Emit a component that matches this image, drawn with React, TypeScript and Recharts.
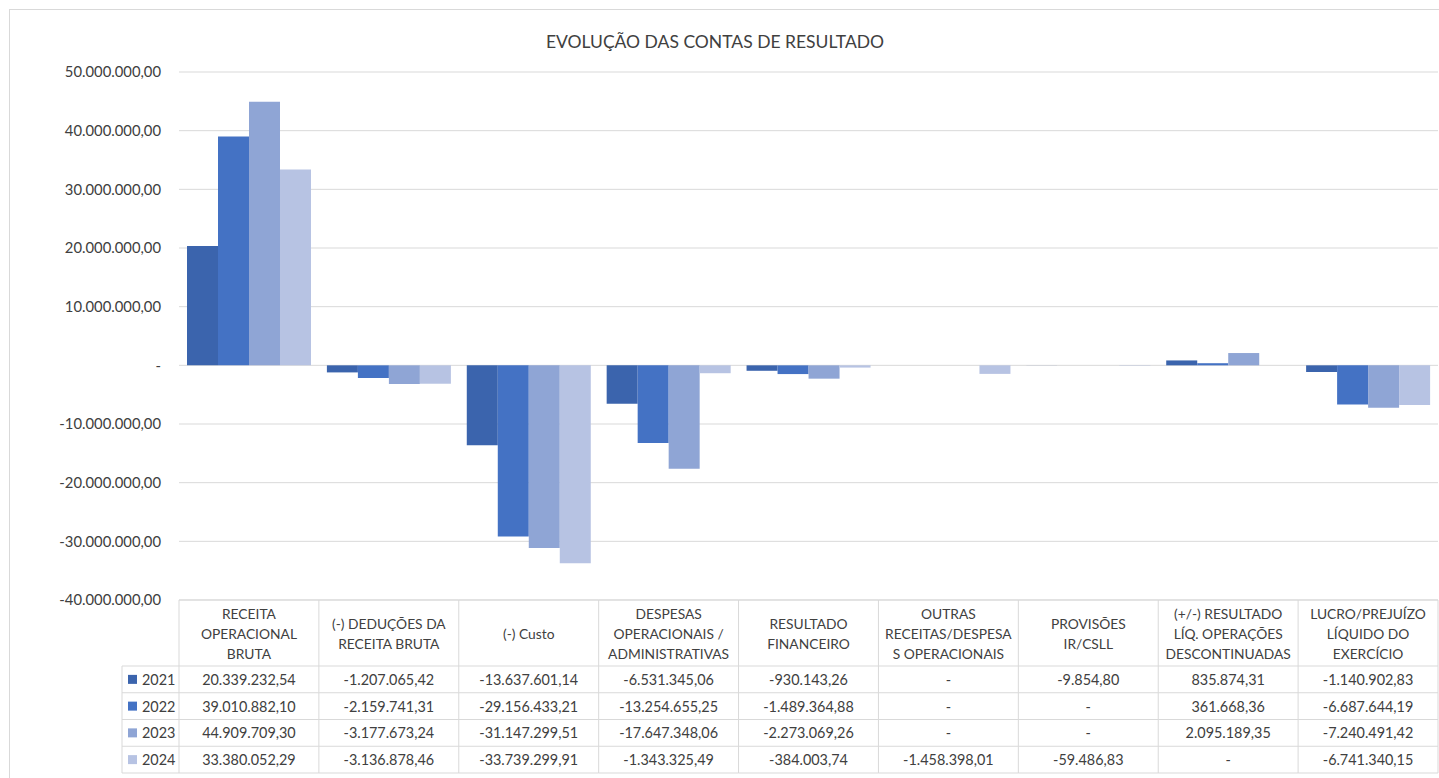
import React from 'react';
import { BarChart, Bar, XAxis, YAxis, CartesianGrid } from 'recharts';

const categories = [
  'RECEITA OPERACIONAL BRUTA',
  '(-) DEDUÇÕES DA RECEITA BRUTA',
  '(-) Custo',
  'DESPESAS OPERACIONAIS / ADMINISTRATIVAS',
  'RESULTADO FINANCEIRO',
  'OUTRAS RECEITAS/DESPESAS OPERACIONAIS',
  'PROVISÕES IR/CSLL',
  '(+/-) RESULTADO LÍQ. OPERAÇÕES DESCONTINUADAS',
  'LUCRO/PREJUÍZO LÍQUIDO DO EXERCÍCIO',
];

const categoryLines: string[][] = [
  ['RECEITA', 'OPERACIONAL', 'BRUTA'],
  ['(-) DEDUÇÕES DA', 'RECEITA BRUTA'],
  ['(-) Custo'],
  ['DESPESAS', 'OPERACIONAIS /', 'ADMINISTRATIVAS'],
  ['RESULTADO', 'FINANCEIRO'],
  ['OUTRAS', 'RECEITAS/DESPESA', 'S OPERACIONAIS'],
  ['PROVISÕES', 'IR/CSLL'],
  ['(+/-) RESULTADO', 'LÍQ. OPERAÇÕES', 'DESCONTINUADAS'],
  ['LUCRO/PREJUÍZO', 'LÍQUIDO DO', 'EXERCÍCIO'],
];

const years = ['2021', '2022', '2023', '2024'];

const values2021: (number | null)[] = [20339232.54, -1207065.42, -13637601.14, -6531345.06, -930143.26, null, -9854.8, 835874.31, -1140902.83];
const values2022: (number | null)[] = [39010882.1, -2159741.31, -29156433.21, -13254655.25, -1489364.88, null, null, 361668.36, -6687644.19];
const values2023: (number | null)[] = [44909709.3, -3177673.24, -31147299.51, -17647348.06, -2273069.26, null, null, 2095189.35, -7240491.42];
const values2024: (number | null)[] = [33380052.29, -3136878.46, -33739299.91, -1343325.49, -384003.74, -1458398.01, -59486.83, null, -6741340.15];

const seriesValues = [values2021, values2022, values2023, values2024];
const colors = ['#3B64AD', '#4472C4', '#8FA5D5', '#B7C3E3'];

const yTicks = [50000000, 40000000, 30000000, 20000000, 10000000, 0, -10000000, -20000000, -30000000, -40000000];

const title = 'EVOLUÇÃO DAS CONTAS DE RESULTADO';

const data = categories.map((c, i) => ({
  name: c,
  y2021: values2021[i],
  y2022: values2022[i],
  y2023: values2023[i],
  y2024: values2024[i],
}));
const keys = ['y2021', 'y2022', 'y2023', 'y2024'];

// layout
const CHART_W = 1439;
const CHART_H = 778;
const MARGIN = { top: 72, right: 1, left: 0, bottom: 5 };
const Y_AXIS_W = 179;
const X_AXIS_H = 173;
const HEADER_H = 66;
const ROW_H = (X_AXIS_H - HEADER_H) / 4;
const LEGEND_COL_W = 57;
const PLOT_W = CHART_W - MARGIN.left - MARGIN.right - Y_AXIS_W;
const COL_W = PLOT_W / categories.length;
const BORDER = '#D9D9D9';
const TEXT = '#404040';
const FONT = 'Lato, "Open Sans", sans-serif';

function formatBR(v: number): string {
  const neg = v < 0;
  const abs = Math.abs(v);
  const fixed = abs.toFixed(2);
  const [intPart, dec] = fixed.split('.');
  const withDots = intPart.replace(/\B(?=(\d{3})+(?!\d))/g, '.');
  return (neg ? '-' : '') + withDots + ',' + dec;
}

const yFormatter = (v: number) => (v === 0 ? '-' : formatBR(v));

const TableTick = (props: any) => {
  const { x, y, index } = props;
  const left = x - COL_W / 2;
  const right = x + COL_W / 2;
  const bottom = y + HEADER_H + 4 * ROW_H;
  const lines = categoryLines[index] || [];
  const headerCenter = y + HEADER_H / 2;
  const lineGap = 20;
  const elems: React.ReactNode[] = [];

  elems.push(<line key="l" x1={left} x2={left} y1={y} y2={bottom} stroke={BORDER} />);
  if (index === categories.length - 1) {
    elems.push(<line key="r" x1={right} x2={right} y1={y} y2={bottom} stroke={BORDER} />);
  }
  elems.push(<line key="t" x1={left} x2={right} y1={y} y2={y} stroke={BORDER} />);
  lines.forEach((ln, i) => {
    elems.push(
      <text
        key={'h' + i}
        x={x}
        y={headerCenter + (i - (lines.length - 1) / 2) * lineGap}
        textAnchor="middle"
        dominantBaseline="central"
        fontSize={13.8}
        fill={TEXT}
      >
        {ln}
      </text>
    );
  });
  for (let r = 0; r <= 4; r++) {
    const ly = y + HEADER_H + r * ROW_H;
    elems.push(<line key={'rl' + r} x1={left} x2={right} y1={ly} y2={ly} stroke={BORDER} />);
  }
  seriesValues.forEach((vals, r) => {
    const v = vals[index];
    elems.push(
      <text
        key={'v' + r}
        x={x}
        y={y + HEADER_H + (r + 0.5) * ROW_H}
        textAnchor="middle"
        dominantBaseline="central"
        fontSize={14.4}
        fill={TEXT}
      >
        {v === null ? '-' : formatBR(v)}
      </text>
    );
  });

  if (index === 0) {
    const lx = left - LEGEND_COL_W;
    elems.push(<line key="lgl" x1={lx} x2={lx} y1={y + HEADER_H} y2={bottom} stroke={BORDER} />);
    for (let r = 0; r <= 4; r++) {
      const ly = y + HEADER_H + r * ROW_H;
      elems.push(<line key={'lgr' + r} x1={lx} x2={left} y1={ly} y2={ly} stroke={BORDER} />);
    }
    years.forEach((yr, r) => {
      const cy = y + HEADER_H + (r + 0.5) * ROW_H;
      elems.push(<rect key={'sq' + r} x={lx + 6} y={cy - 4.5} width={9} height={9} fill={colors[r]} />);
      elems.push(
        <text key={'yr' + r} x={lx + 20} y={cy} textAnchor="start" dominantBaseline="central" fontSize={14.4} fill={TEXT}>
          {yr}
        </text>
      );
    });
  }

  return <g>{elems}</g>;
};

export default function App() {
  return (
    <div
      style={{
        position: 'fixed',
        left: 0,
        top: 0,
        width: CHART_W,
        height: CHART_H,
        overflow: 'hidden',
        background: '#fff',
        fontFamily: FONT,
      }}
    >
      <div
        style={{
          position: 'absolute',
          left: 9,
          top: 9,
          width: 1500,
          height: 900,
          border: `1px solid ${BORDER}`,
        }}
      />
      <div
        style={{
          position: 'absolute',
          left: 0,
          top: 31,
          width: 1430,
          lineHeight: '22px',
          textAlign: 'center',
          fontSize: 17.5,
          color: TEXT,
        }}
      >
        {title}
      </div>
      <div style={{ position: 'absolute', left: 0, top: 0 }}>
        <BarChart
          width={CHART_W}
          height={CHART_H}
          data={data}
          margin={MARGIN}
          barCategoryGap={8}
          barGap={0}
        >
          <CartesianGrid vertical={false} stroke={BORDER} />
          <XAxis
            dataKey="name"
            height={X_AXIS_H}
            axisLine={false}
            tickLine={false}
            tickSize={0}
            tickMargin={0}
            interval={0}
            tick={<TableTick />}
          />
          <YAxis
            width={Y_AXIS_W}
            domain={[-40000000, 50000000]}
            ticks={yTicks}
            interval={0}
            axisLine={false}
            tickLine={false}
            tickSize={0}
            tickMargin={18}
            tickFormatter={yFormatter}
            tick={{ fontSize: 14.8, fill: TEXT }}
          />
          {keys.map((k, i) => (
            <Bar key={k} dataKey={k} name={years[i]} fill={colors[i]} isAnimationActive={false} />
          ))}
        </BarChart>
      </div>
    </div>
  );
}
